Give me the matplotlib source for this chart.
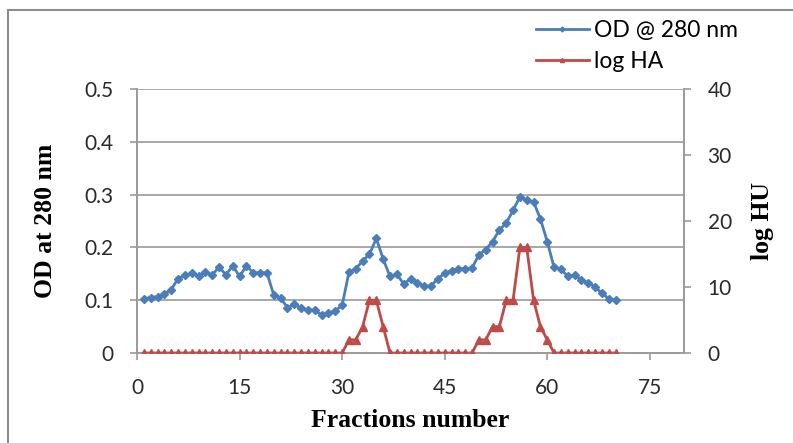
import matplotlib
matplotlib.use('Agg')
import matplotlib.pyplot as plt
from matplotlib.lines import Line2D
import numpy as np

# fraction numbers 1..70
fractions = list(range(1, 71))

od_280 = [0.103, 0.105, 0.107, 0.112, 0.120, 0.141, 0.147, 0.151, 0.146, 0.153,
          0.148, 0.163, 0.148, 0.165, 0.145, 0.165, 0.152, 0.152, 0.152, 0.110,
          0.104, 0.086, 0.092, 0.085, 0.082, 0.081, 0.072, 0.076, 0.080, 0.090,
          0.153, 0.160, 0.174, 0.187, 0.217, 0.178, 0.145, 0.149, 0.131, 0.140,
          0.133, 0.126, 0.127, 0.141, 0.151, 0.156, 0.160, 0.160, 0.161, 0.186,
          0.196, 0.211, 0.233, 0.246, 0.270, 0.296, 0.289, 0.286, 0.254, 0.211,
          0.162, 0.159, 0.145, 0.148, 0.138, 0.133, 0.125, 0.113, 0.103, 0.100]

log_ha = ([0] * 30 + [2, 2, 4, 8, 8, 4] + [0] * 13 +
          [2, 2, 4, 4, 8, 8, 16, 16, 8, 4, 2] + [0] * 10)

x_ticks = [0, 15, 30, 45, 60, 75]
od_ticks = [0, 0.1, 0.2, 0.3, 0.4, 0.5]
od_tick_labels = ['0', '0.1', '0.2', '0.3', '0.4', '0.5']
hu_ticks = [0, 10, 20, 30, 40]

blue = '#4a7ebb'
red = '#be4b48'
grey = '#9a9a9a'
tick_font = 'Lato'
label_font = 'Liberation Serif'

fig = plt.figure(figsize=(7.93, 4.43), dpi=100)
ax = fig.add_axes([137 / 793, 1 - 353 / 443, 547 / 793, 264 / 443])
ax2 = ax.twinx()

ax.set_xlim(0, 80)
ax.set_ylim(0, 0.5)
ax2.set_ylim(0, 40)

for y in od_ticks[1:]:
    ax.axhline(y, color=grey, lw=1.2, zorder=0)

l1, = ax.plot(fractions, od_280, color=blue, lw=2, marker='D', ms=4,
              mec=blue, zorder=3)
l2, = ax2.plot(fractions, log_ha, color=red, lw=2, marker='^', ms=5.5,
               mec=red, zorder=3)

ax.set_xticks(x_ticks)
ax.set_yticks(od_ticks)
ax.set_yticklabels(od_tick_labels)
ax2.set_yticks(hu_ticks)

for a in (ax, ax2):
    for s in a.spines.values():
        s.set_color(grey)
        s.set_linewidth(1.2)
    a.spines['top'].set_visible(False)
    a.tick_params(axis='both', length=5, width=1.2, color=grey,
                  labelsize=15, pad=12, direction='out')
    for t in a.get_xticklabels() + a.get_yticklabels():
        t.set_fontfamily(tick_font)
        t.set_color('#2a2a2a')
ax.tick_params(axis='x', pad=13)

ax.set_xlabel('Fractions number', fontfamily=label_font, fontweight='bold',
              fontsize=18.5)
ax.xaxis.set_label_coords(0.5, -0.254)
ax.xaxis.label.set_va('center')
ax.set_ylabel('OD at 280 nm', fontfamily=label_font, fontweight='bold',
              fontsize=18.5)
ax.yaxis.set_label_coords(-0.168, 0.5)
ax.yaxis.label.set_va('center')
ax2.set_ylabel('log HU', fontfamily=label_font, fontweight='bold',
               fontsize=18.5, rotation=90)
ax2.yaxis.set_label_coords(1.143, 0.5)
ax2.yaxis.label.set_va('center')

h1 = Line2D([], [], color=blue, lw=2, marker='D', ms=2.5, mec=blue)
h2 = Line2D([], [], color=red, lw=2, marker='^', ms=3, mec=red)
fig.legend([h1, h2], ['OD @ 280 nm', 'log HA'], loc='upper left',
           bbox_to_anchor=(536 / 793, 1 - 20 / 443), frameon=False,
           prop={'family': tick_font, 'size': 16.5}, handlelength=2.3,
           handletextpad=0.25, labelspacing=0.45, numpoints=1,
           borderaxespad=0, borderpad=0)

# outer chart frame
fig.add_artist(Line2D([8 / 793, 8 / 793], [0, 1 - 10 / 443], color='#8c8c8c',
                      lw=1.5, transform=fig.transFigure))
fig.add_artist(Line2D([8 / 793, 1], [1 - 10 / 443, 1 - 10 / 443],
                      color='#8c8c8c', lw=1.5, transform=fig.transFigure))

fig.savefig('out.png', dpi=100)
